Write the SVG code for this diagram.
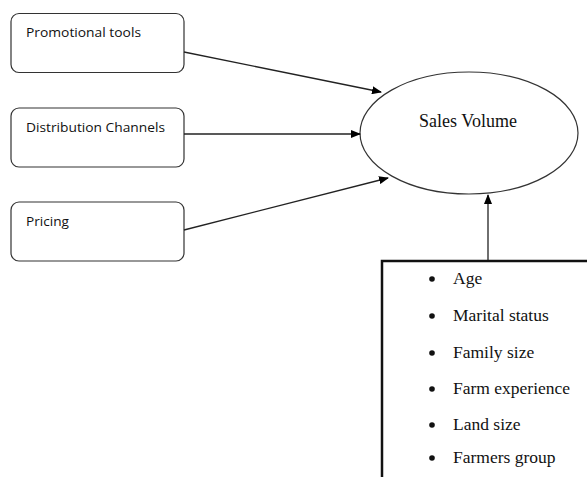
<svg xmlns="http://www.w3.org/2000/svg" width="587" height="477" viewBox="0 0 587 477">
<defs>
<marker id="arr" markerWidth="10" markerHeight="8" refX="9" refY="4" orient="auto" markerUnits="userSpaceOnUse">
<path d="M0,0 L10,4 L0,8 Z" fill="#000"/>
</marker>
<style>
.box{fill:#fff;stroke:#333;stroke-width:1.2}
.lbl{font-family:"Open Sans","Liberation Sans",sans-serif;font-size:12.5px;fill:#111}
.tm{font-family:"Liberation Serif",serif;fill:#111}
.con{stroke:#222;stroke-width:1.3;fill:none;marker-end:url(#arr)}
</style>
</defs>
<rect width="587" height="477" fill="#fff"/>
<g id="promotional">
<rect class="box" x="11" y="13.5" width="173" height="59" rx="8"/>
<text class="lbl" x="26" y="37" textLength="115" lengthAdjust="spacingAndGlyphs">Promotional tools</text>
</g>
<g id="distribution">
<rect class="box" x="11" y="108" width="173" height="59" rx="8"/>
<text class="lbl" x="26" y="132" textLength="139" lengthAdjust="spacingAndGlyphs">Distribution Channels</text>
</g>
<g id="pricing">
<rect class="box" x="11" y="202" width="173" height="59" rx="8"/>
<text class="lbl" x="26" y="226" textLength="43" lengthAdjust="spacingAndGlyphs">Pricing</text>
</g>
<g id="sales">
<ellipse cx="469" cy="133" rx="109" ry="61" fill="#fff" stroke="#333" stroke-width="1.2"/>
<text class="tm" x="468" y="127" font-size="18" text-anchor="middle">Sales Volume</text>
</g>
<g id="factors">
<rect x="382" y="261" width="220" height="230" fill="#fff" stroke="#111" stroke-width="2.5"/>
<g class="tm" font-size="17.5">
<circle cx="432" cy="279" r="2.8" fill="#111"/><text x="453" y="284">Age</text>
<circle cx="432" cy="316" r="2.8" fill="#111"/><text x="453" y="321">Marital status</text>
<circle cx="432" cy="353" r="2.8" fill="#111"/><text x="453" y="358">Family size</text>
<circle cx="432" cy="389" r="2.8" fill="#111"/><text x="453" y="394">Farm experience</text>
<circle cx="432" cy="425" r="2.8" fill="#111"/><text x="453" y="430">Land size</text>
<circle cx="432" cy="458" r="2.8" fill="#111"/><text x="453" y="463">Farmers group</text>
</g>
</g>
<g id="connectors">
<line class="con" x1="184" y1="52" x2="381" y2="92"/>
<line class="con" x1="184" y1="134" x2="360" y2="134"/>
<line class="con" x1="184" y1="230" x2="388" y2="178"/>
<line class="con" x1="488" y1="260" x2="488" y2="195"/>
</g>
</svg>
